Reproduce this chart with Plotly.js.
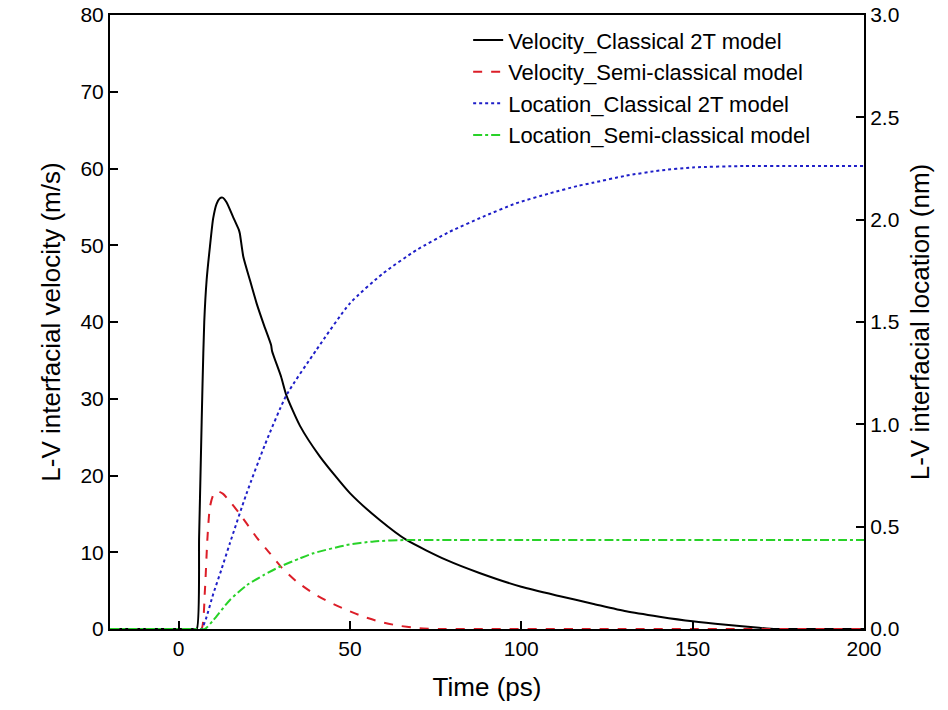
<!DOCTYPE html>
<html>
<head>
<meta charset="utf-8">
<script src="https://cdn.plot.ly/plotly-3.0.1.min.js"></script>
<style>html,body{margin:0;padding:0;background:#fff;}#chart{width:948px;height:710px;}</style>
</head>
<body>
<div id="chart"></div>
<script>
// Velocity, classical 2T model (m/s)
const velClassicalX = [-20, -10, 0, 4, 5.3, 6.0, 6.5, 7.0, 7.5, 8.2, 9.15, 10.1, 11.1, 12.0, 12.85, 14.0, 15.9, 17.6, 17.9, 18.9, 20.8, 22.8, 25.0, 27.0, 27.3, 29.9, 31.5, 35.4, 41.2, 50, 58.7, 66.5, 78.1, 87.8, 100, 111, 120.8, 130.6, 140.3, 150, 159.7, 169.4, 174.3, 185, 200];
const velClassicalY = [0, 0, 0, 0, 0, 12, 22, 32, 40, 45.5, 49.8, 53.5, 55.4, 56.1, 56.2, 55.6, 53.7, 52.0, 51.5, 48.5, 45.5, 42.4, 39.5, 37.0, 36.2, 32.9, 30.4, 26.5, 22.5, 17.7, 14.2, 11.6, 9.0, 7.3, 5.5, 4.3, 3.3, 2.3, 1.6, 1.0, 0.55, 0.16, 0, 0, 0];

// Velocity, semi-classical model (m/s)
const velSemiX = [-20, -10, 0, 5, 6.7, 7.7, 8.4, 9.15, 10.2, 11.6, 13.0, 15.0, 17.5, 19.8, 23, 26.6, 29.9, 34.4, 39.3, 44, 49, 54, 58.7, 64, 70.3, 76, 90, 120, 160, 200];
const velSemiY = [0, 0, 0, 0, 0, 5.1, 11.6, 15.9, 17.5, 17.9, 17.6, 16.6, 15.2, 13.8, 11.8, 9.9, 8.1, 6.2, 4.65, 3.5, 2.5, 1.6, 0.95, 0.45, 0.1, 0, 0, 0, 0, 0];

// Location, classical 2T model (nm)
const locClassicalX = [-20, -10, 0, 5, 6.7, 8.0, 10.1, 12.5, 15, 19.8, 25.2, 31.5, 40.2, 50, 59.7, 69.4, 79.1, 88.8, 98.5, 108.2, 116.5, 120.8, 130.6, 140.3, 150, 165, 180, 200];
const locClassicalY = [0, 0, 0, 0, 0, 0.05, 0.17, 0.29, 0.42, 0.66, 0.90, 1.143, 1.363, 1.591, 1.738, 1.851, 1.941, 2.014, 2.08, 2.128, 2.165, 2.18, 2.215, 2.24, 2.255, 2.262, 2.262, 2.262];

// Location, semi-classical model (nm)
const locSemiX = [-20, -10, 0, 5, 7.7, 10, 15, 20, 24.7, 29.5, 35.4, 39.3, 49, 57, 66.5, 80, 100, 130, 160, 200];
const locSemiY = [0, 0, 0, 0, 0, 0.04, 0.142, 0.215, 0.262, 0.304, 0.345, 0.37, 0.41, 0.428, 0.435, 0.435, 0.435, 0.435, 0.435, 0.435];

const names = ["Velocity_Classical 2T model", "Velocity_Semi-classical model", "Location_Classical 2T model", "Location_Semi-classical model"];

const FONT = "Liberation Sans, Arial, Helvetica, sans-serif";

const traces = [
  {x: velClassicalX, y: velClassicalY, name: names[0], mode: "lines", yaxis: "y",
   line: {color: "#000000", width: 2, dash: "solid", shape: "spline", smoothing: 0.6}},
  {x: velSemiX, y: velSemiY, name: names[1], mode: "lines", yaxis: "y",
   line: {color: "rgb(220,30,40)", width: 2, dash: "dash", shape: "spline", smoothing: 0.6}},
  {x: locClassicalX, y: locClassicalY, name: names[2], mode: "lines", yaxis: "y2",
   line: {color: "rgb(30,30,200)", width: 2, dash: "dot", shape: "spline", smoothing: 0.6}},
  {x: locSemiX, y: locSemiY, name: names[3], mode: "lines", yaxis: "y2",
   line: {color: "rgb(40,210,40)", width: 2, dash: "dashdot", shape: "spline", smoothing: 0.6}}
];

const axisCommon = {
  showgrid: false, zeroline: false, showline: true, linecolor: "#000", linewidth: 2,
  ticks: "inside", ticklen: 8, tickwidth: 2, tickcolor: "#000",
  tickfont: {family: FONT, size: 21, color: "#000"}
};

const layout = {
  width: 948, height: 710,
  margin: {l: 110, r: 84, t: 15, b: 81, pad: 0},
  paper_bgcolor: "#fff", plot_bgcolor: "#fff",
  font: {family: FONT, color: "#000"},
  showlegend: true,
  legend: {x: 0.475, y: 0.993, xanchor: "left", yanchor: "top", bgcolor: "rgba(0,0,0,0)",
           font: {family: FONT, size: 22, color: "#000"}, tracegroupgap: 0},
  xaxis: Object.assign({}, axisCommon, {
    range: [-20, 200], dtick: 50, tick0: 0, mirror: true,
    title: {text: "Time (ps)", font: {family: FONT, size: 26, color: "#000"}, standoff: 19}
  }),
  yaxis: Object.assign({}, axisCommon, {
    range: [0, 80], dtick: 10, tick0: 0,
    title: {text: "L-V interfacial velocity (m/s)", font: {family: FONT, size: 26, color: "#000"}, standoff: 12}
  }),
  yaxis2: Object.assign({}, axisCommon, {
    range: [0, 3], dtick: 0.5, tick0: 0, tickformat: ".1f",
    overlaying: "y", side: "right", anchor: "x",
    title: {text: "L-V interfacial location (nm)", font: {family: FONT, size: 26, color: "#000"}, standoff: 12}
  })
};

Plotly.newPlot("chart", traces, layout, {displayModeBar: false, staticPlot: true});
</script>
</body>
</html>
